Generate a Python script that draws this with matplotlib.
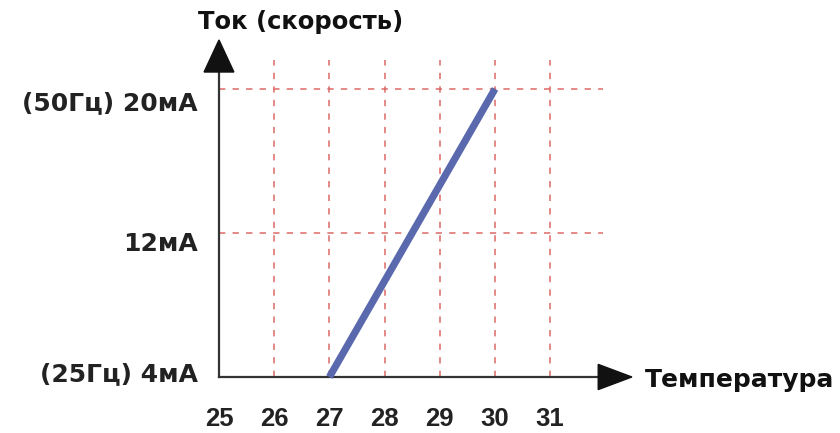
import matplotlib
matplotlib.use("Agg")
import matplotlib.pyplot as plt
from matplotlib.patches import Polygon

# Data
temps = [27, 30]
currents = [4, 20]
x_ticks = [25, 26, 27, 28, 29, 30, 31]
y_ticks = [4, 12, 20]
y_labels = ["(25Гц) 4мА", "12мА", "(50Гц) 20мА"]
title = "Ток (скорость)"
xlabel = "Температура"

plt.rcParams['font.family'] = ["DejaVu Sans"]

fig = plt.figure(figsize=(8.4, 4.33), dpi=100)
ax = fig.add_axes([0, 0, 1, 1])
ax.set_xlim(21.033, 36.25)
ax.set_ylim(0.889, 24.94)
ax.axis('off')

grid_color = "#dc6a66"
for xt in x_ticks[1:]:
    ax.plot([xt, xt], [4, 21.6], color=grid_color, lw=1.3, ls=(0, (3.5, 4)), alpha=0.85, zorder=1)
for yt in y_ticks[1:]:
    ax.plot([25, 31.95], [yt, yt], color=grid_color, lw=1.3, ls=(0, (3.5, 4)), alpha=0.85, zorder=1)

ax.plot([25, 25], [4, 21.0], color="#333333", lw=1.6, zorder=3)
ax.plot([25, 31.9], [4, 4], color="#333333", lw=1.6, zorder=3)
ax.add_patch(Polygon([[25 - 0.27, 20.94], [25 + 0.27, 20.94], [25, 22.72]], closed=True,
                     color="#111111", zorder=4))
ax.add_patch(Polygon([[31.87, 4 + 0.7], [31.87, 4 - 0.7], [32.48, 4]], closed=True,
                     color="#111111", zorder=4))

ax.plot(temps, currents, color="#5a69ad", lw=5.2, solid_capstyle='butt', zorder=5)

for xt in x_ticks:
    ax.text(xt, 1.68, str(xt), ha='center', va='center', fontsize=18.5, fontweight='bold',
            color="#222222", family=["Liberation Sans", "DejaVu Sans"])
ypos = {4: 4.17, 12: 11.39, 20: 19.22}
for yt, lab in zip(y_ticks, y_labels):
    ax.text(24.62, ypos[yt], lab, ha='right', va='center', fontsize=18, fontweight='bold', color="#222222")

ax.text(26.47, 23.7, title, ha='center', va='center', fontsize=17.5, fontweight='bold', color="#111111")
ax.text(32.72, 3.83, xlabel, ha='left', va='center', fontsize=18, fontweight='bold', color="#111111")

fig.savefig("out.png", dpi=100)
